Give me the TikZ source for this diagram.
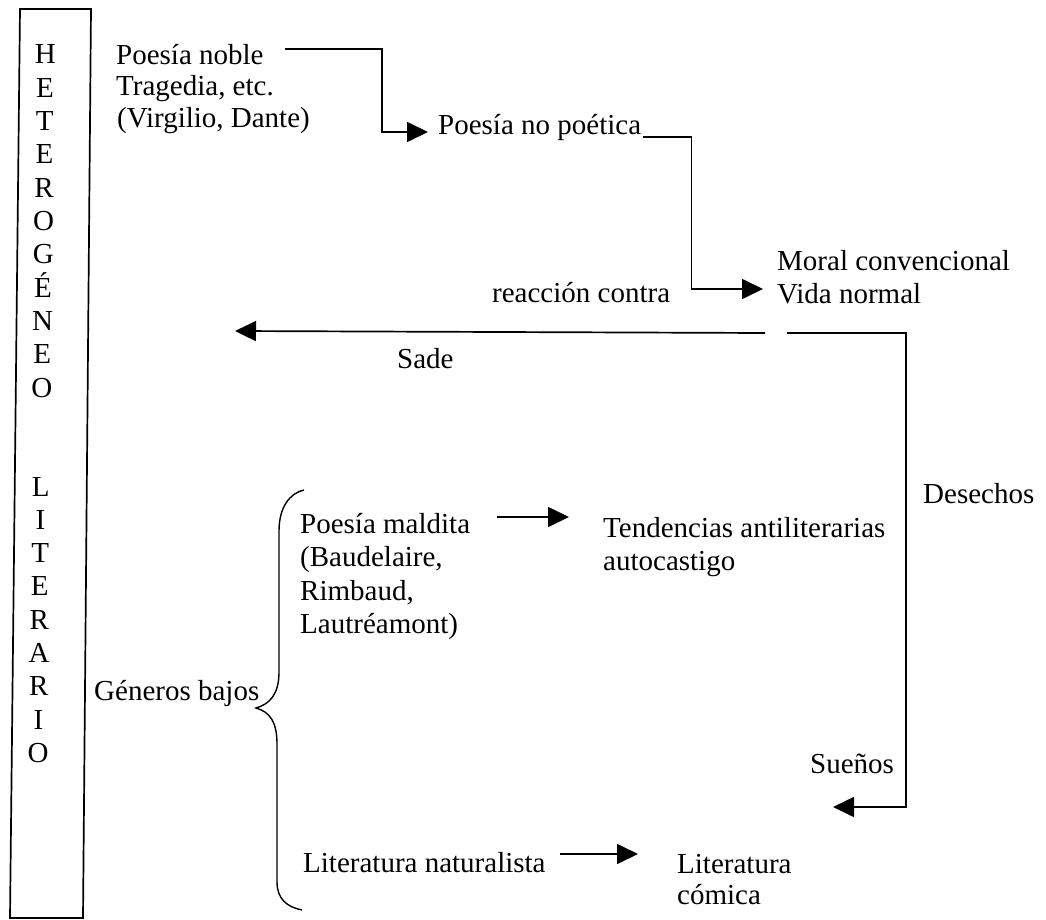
\documentclass[tikz,border=0pt]{standalone}
\usepackage{fontspec}
\setmainfont{Liberation Serif}
\usetikzlibrary{arrows.meta,calc}
\begin{document}
\begin{tikzpicture}[x=1pt,y=-1pt,
  txt/.style={anchor=base west, inner sep=0pt, font=\fontsize{29pt}{33pt}\selectfont},
  letter/.style={anchor=base, inner sep=0pt, font=\fontsize{29pt}{33pt}\selectfont},
  conn/.style={line width=1.7pt},
  arr/.style={conn, -{Triangle[length=21pt,width=20pt]}},
]
\useasboundingbox (0,0) rectangle (1046,920);

% vertical frame holding the spelled-out words
\draw[conn] (20,9) -- (91,9) -- (83,918) -- (10,918) -- cycle;
\foreach \ch [count=\i] in {H,E,T,E,R,O,G,É,N,E,O}
  \node[letter] (het\i) at ({45.5-7.5*(33.3*(\i-1)+4)/700}, {64+33.3*(\i-1)}) {\ch};
\foreach \ch [count=\i] in {L,I,T,E,R,A,R,I,O}
  \node[letter] (lit\i) at ({45.5-7.5*(33.3*(\i-1)+436)/700}, {496+33.3*(\i-1)}) {\ch};

% texts
\node[txt] (noble)  at (116,65)  {Poesía noble};
\node[txt] (trag)   at (116,96)  {Tragedia, etc.};
\node[txt] (virg)   at (117,128) {(Virgilio, Dante)};
\node[txt] (nopoet) at (438,135) {Poesía no poética};
\node[txt] (moral)  at (777,270) {Moral convencional};
\node[txt] (vida)   at (777,303) {Vida normal};
\node[txt] (reac)   at (492,302) {reacción contra};
\node[txt] (sade)   at (397,368) {Sade};
\node[txt] (desech) at (923,503) {Desechos};
\node[txt] (tend)   at (603,537) {Tendencias antiliterarias};
\node[txt] (autoc)  at (603,570) {autocastigo};
\node[txt] (mald)   at (300,533) {Poesía maldita};
\node[txt] (baud)   at (300,566) {(Baudelaire,};
\node[txt] (rimb)   at (300,600) {Rimbaud,};
\node[txt] (lautr)  at (300,633) {Lautréamont)};
\node[txt] (gener)  at (94,700)  {Géneros bajos};
\node[txt] (sue)    at (810,773) {Sueños};
\node[txt] (natur)  at (303,872) {Literatura naturalista};
\node[txt] (comi1)  at (677,873) {Literatura};
\node[txt] (comi2)  at (677,904) {cómica};

% free ends
\coordinate (sadetip)  at (235,331);
\coordinate (loopbot)  at (906,807);
\coordinate (dreamtip) at (833,807);

% connectors
\draw[arr] ([xshift=21pt,yshift=16pt]noble.base east) -- ++(97,0)
  |- ([xshift=-10pt,yshift=3pt]nopoet.base west);
\draw[arr] ([xshift=2pt,yshift=-2pt]nopoet.base east) -- ++(48,0)
  |- ([xshift=-14pt,yshift=14pt]vida.base west);
\draw[arr] ([xshift=-12pt,yshift=-30pt]vida.base west) -- (sadetip);
\draw[arr] ([xshift=10pt,yshift=-30pt]vida.base west) -| (loopbot) -- (dreamtip);
\draw[arr] ([xshift=27pt,yshift=16pt]mald.base east) -- ([xshift=-34pt,yshift=20pt]tend.base west);
\draw[arr] ([xshift=14pt,yshift=18pt]natur.base east) -- ([xshift=-39pt,yshift=19pt]comi1.base west);

% brace grouping the low genres
\draw[line width=1.4pt] (304,490) .. controls (290,493) and (279,507) .. (279,531)
  -- (279,672) .. controls (279,694) and (270,704) .. (256,708)
  .. controls (270,712) and (277,722) .. (277,744)
  -- (277,882) .. controls (277,899) and (287,907) .. (302,910);
\end{tikzpicture}
\end{document}
